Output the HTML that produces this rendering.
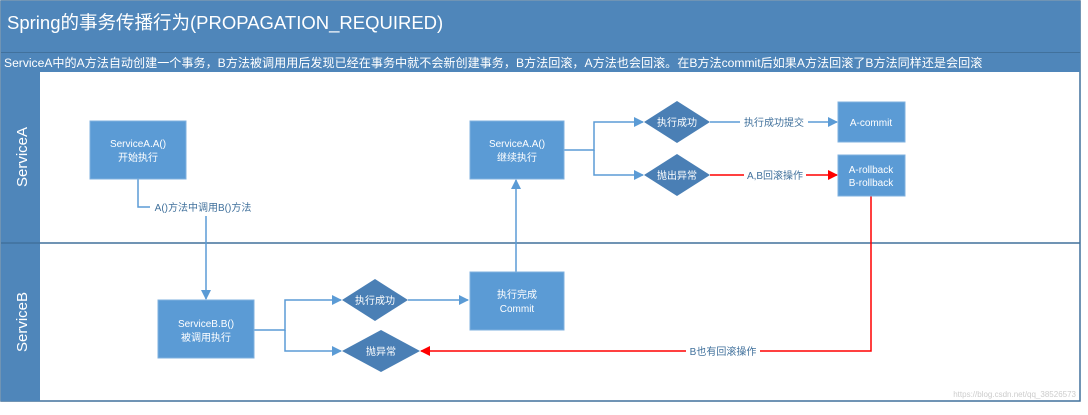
<!DOCTYPE html>
<html><head><meta charset="utf-8"><style>
body{margin:0;width:1088px;height:410px;background:#fff;overflow:hidden;font-family:"Liberation Sans","Noto Sans CJK SC",sans-serif}
</style></head><body>
<svg width="1088" height="410" viewBox="0 0 1088 410" xmlns="http://www.w3.org/2000/svg" font-family="Liberation Sans, Noto Sans CJK SC, sans-serif">
<defs>
<marker id="ab" markerWidth="10" markerHeight="10" refX="9" refY="5" orient="auto" markerUnits="userSpaceOnUse"><path d="M0,0 L10,5 L0,10 z" fill="#5b9bd5"/></marker>
<marker id="ar" markerWidth="10" markerHeight="10" refX="9" refY="5" orient="auto" markerUnits="userSpaceOnUse"><path d="M0,0 L10,5 L0,10 z" fill="#ff0000"/></marker>
</defs>
<rect x="1" y="1" width="1079" height="400" fill="#fff" stroke="#41719c" stroke-width="1.5"/>
<rect x="1" y="1" width="1079" height="51" fill="#4f86ba"/>
<text x="7" y="29" font-size="18.5" fill="#fff">Spring的事务传播行为(PROPAGATION_REQUIRED)</text>
<rect x="1" y="53" width="1079" height="19" fill="#4f86ba"/>
<line x1="1" y1="52.5" x2="1080" y2="52.5" stroke="#41719c"/>
<text x="4" y="67" font-size="12.1" fill="#fff">ServiceA中的A方法自动创建一个事务，B方法被调用用后发现已经在事务中就不会新创建事务，B方法回滚，A方法也会回滚。在B方法commit后如果A方法回滚了B方法同样还是会回滚</text>
<rect x="1" y="72" width="39" height="329" fill="#4f86ba"/>
<line x1="1" y1="243" x2="1080" y2="243" stroke="#41719c" stroke-width="1.5"/>
<text transform="translate(27,157) rotate(-90)" text-anchor="middle" font-size="15" fill="#fff">ServiceA</text>
<text transform="translate(27,322) rotate(-90)" text-anchor="middle" font-size="15" fill="#fff">ServiceB</text>
<g stroke="#5b9bd5" stroke-width="1.5" fill="none">
<polyline points="138,179 138,207 150,207"/>
<polyline points="206,216 206,299" marker-end="url(#ab)"/>
<polyline points="254,330 285,330 285,300 341,300" marker-end="url(#ab)"/>
<polyline points="285,330 285,351 341,351" marker-end="url(#ab)"/>
<polyline points="408,300 468,300" marker-end="url(#ab)"/>
<polyline points="516,272 516,180" marker-end="url(#ab)"/>
<polyline points="564,150 594,150 594,122 643,122" marker-end="url(#ab)"/>
<polyline points="594,150 594,175 643,175" marker-end="url(#ab)"/>
<polyline points="710,122 837,122" marker-end="url(#ab)"/>
</g>
<g stroke="#ff0000" stroke-width="1.5" fill="none">
<polyline points="710,175 837,175" marker-end="url(#ar)"/>
<polyline points="871,196 871,351 421,351" marker-end="url(#ar)"/>
</g>
<g font-size="10" fill="#41719c" text-anchor="middle">
<rect x="150" y="200" width="106" height="14" fill="#fff"/><text x="203" y="211">A()方法中调用B()方法</text>
<rect x="740" y="115" width="68" height="14" fill="#fff"/><text x="774" y="126">执行成功提交</text>
<rect x="744" y="168" width="62" height="14" fill="#fff"/><text x="775" y="179">A,B回滚操作</text>
<rect x="686" y="344" width="74" height="14" fill="#fff"/><text x="723" y="355">B也有回滚操作</text>
</g>
<g fill="#5b9bd5" stroke="#7fb0df">
<rect x="90" y="121" width="96" height="58"/>
<rect x="470" y="121" width="94" height="58"/>
<rect x="838" y="102" width="67" height="40"/>
<rect x="838" y="155" width="67" height="41"/>
<rect x="158" y="300" width="96" height="58"/>
<rect x="470" y="272" width="94" height="58"/>
</g>
<g fill="#4a7fb5">
<polygon points="677,101 710,122 677,143 644,122"/>
<polygon points="677,154 710,175 677,196 644,175"/>
<polygon points="375,279 408,300 375,321 342,300"/>
<polygon points="381,330 420,351 381,372 342,351"/>
</g>
<g font-size="10" fill="#fff" text-anchor="middle">
<text x="138" y="147">ServiceA.A()</text><text x="138" y="161">开始执行</text>
<text x="517" y="147">ServiceA.A()</text><text x="517" y="161">继续执行</text>
<text x="871" y="126">A-commit</text>
<text x="871" y="173">A-rollback</text><text x="871" y="186">B-rollback</text>
<text x="206" y="327">ServiceB.B()</text><text x="206" y="341">被调用执行</text>
<text x="517" y="298">执行完成</text><text x="517" y="312">Commit</text>
<text x="677" y="126">执行成功</text>
<text x="677" y="179">抛出异常</text>
<text x="375" y="304">执行成功</text>
<text x="381" y="355">抛异常</text>
</g>
<text x="1076" y="397" font-size="8" fill="#ccc" text-anchor="end">https://blog.csdn.net/qq_38526573</text>
</svg>
</body></html>
